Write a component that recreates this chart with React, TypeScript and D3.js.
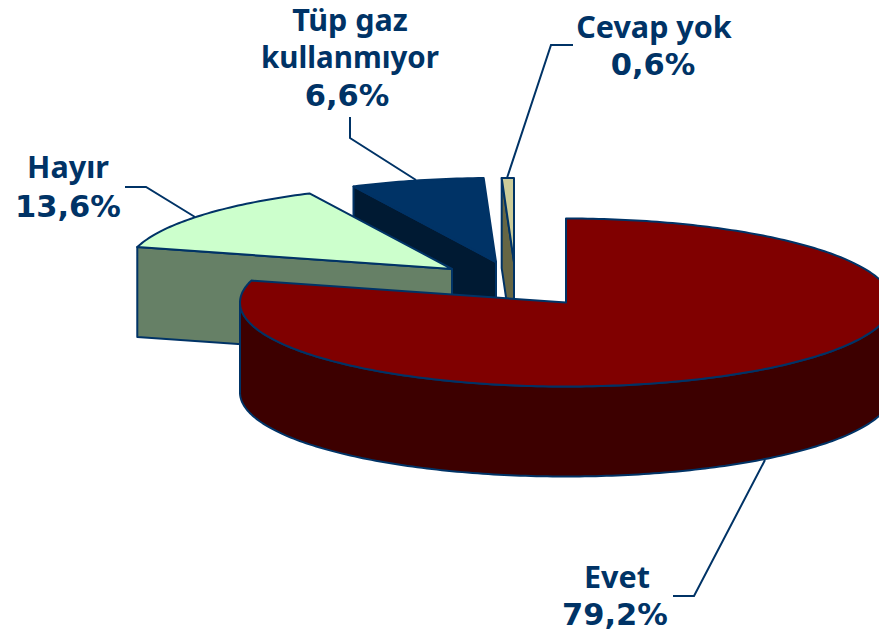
import React from 'react';
import * as d3 from 'd3';

const labels = ['Evet', 'Hayır', 'Tüp gaz kullanmıyor', 'Cevap yok'];
const values = [79.2, 13.6, 6.6, 0.6];
const valueText = ['79,2%', '13,6%', '6,6%', '0,6%'];

const width = 879;
const height = 634;
const rx = 326;
const ry = 84;
const depth = 90;
const navy = '#003366';

// where each exploded slice has its tip
const tips = [[566, 302.5], [452, 269], [496, 262], [514, 262]];
const topColors = ['#800000', '#ccffcc', '#003366', '#cccc99'];
const wallColors = ['#3d0000', '#668066', '#001a33', '#666644'];
// back slices first, Evet sits on top of everything
const drawOrder = [2, 3, 1, 0];

const labelLines = [
  { x: 617, y: [588], text: ['Evet'], vx: 615, vy: 625 },
  { x: 68, y: [178], text: ['Hayır'], vx: 68, vy: 217 },
  { x: 350, y: [31, 68], text: ['Tüp gaz', 'kullanmıyor'], vx: 347, vy: 106 },
  { x: 654, y: [38], text: ['Cevap yok'], vx: 653, vy: 75 },
];
const leaders = [
  [[765, 460], [694, 596], [673, 596]],
  [[125, 187], [146, 187], [195, 217]],
  [[350, 117], [350, 138], [416, 180]],
  [[507, 178], [551, 45], [573, 45]],
];

const pie = d3.pie<number>().sort(null)(values);
const line = d3.line();

function point(i: number, a: number, dy = 0): [number, number] {
  return [tips[i][0] + rx * Math.sin(a), tips[i][1] - ry * Math.cos(a) + dy];
}

function arcPoints(i: number, a0: number, a1: number, dy = 0) {
  const n = Math.max(2, Math.ceil((a1 - a0) * 60));
  return d3.range(n + 1).map((k) => point(i, a0 + ((a1 - a0) * k) / n, dy));
}

export default function App() {
  return (
    <svg
      width={width}
      height={height}
      viewBox={`0 0 ${width} ${height}`}
      style={{ position: 'fixed', left: 0, top: 0, background: '#fff' }}
    >
      {leaders.map((d, i) => (
        <path key={i} d={line(d as [number, number][]) || ''} fill="none" stroke={navy} strokeWidth={2} />
      ))}
      {drawOrder.map((i) => {
        const { startAngle: a0, endAngle: a1 } = pie[i];
        const tip = tips[i] as [number, number];
        const start = point(i, a0);
        // front part of the rim, only the lower half of the ellipse shows a wall
        const w0 = Math.max(a0, Math.PI / 2);
        const w1 = Math.min(a1, (3 * Math.PI) / 2);
        return (
          <g key={i} stroke={navy} strokeWidth={2} strokeLinejoin="round">
            {a0 > Math.PI && (
              <path
                d={(line([start, tip, [tip[0], tip[1] + depth], [start[0], start[1] + depth]]) || '') + 'Z'}
                fill={wallColors[i]}
              />
            )}
            {w1 > w0 && (
              <path
                d={(line([...arcPoints(i, w0, w1), ...arcPoints(i, w0, w1, depth).reverse()]) || '') + 'Z'}
                fill={wallColors[i]}
              />
            )}
            <path d={(line([tip, ...arcPoints(i, a0, a1)]) || '') + 'Z'} fill={topColors[i]} />
          </g>
        );
      })}
      {labelLines.map((l, i) => (
        <g key={labels[i]} textAnchor="middle" fontWeight="bold" fill={navy}>
          {l.text.map((t, k) => (
            <text
              key={k}
              x={l.x}
              y={l.y[k]}
              fontFamily="'Noto Sans', sans-serif"
              fontSize={t === 'kullanmıyor' ? 29.5 : 30.5}
            >
              {t}
            </text>
          ))}
          {/* the digits in the original are wider, DejaVu fits them better */}
          <text x={l.vx} y={l.vy} fontFamily="'DejaVu Sans', sans-serif" fontSize={30.5}>
            {valueText[i]}
          </text>
        </g>
      ))}
    </svg>
  );
}
